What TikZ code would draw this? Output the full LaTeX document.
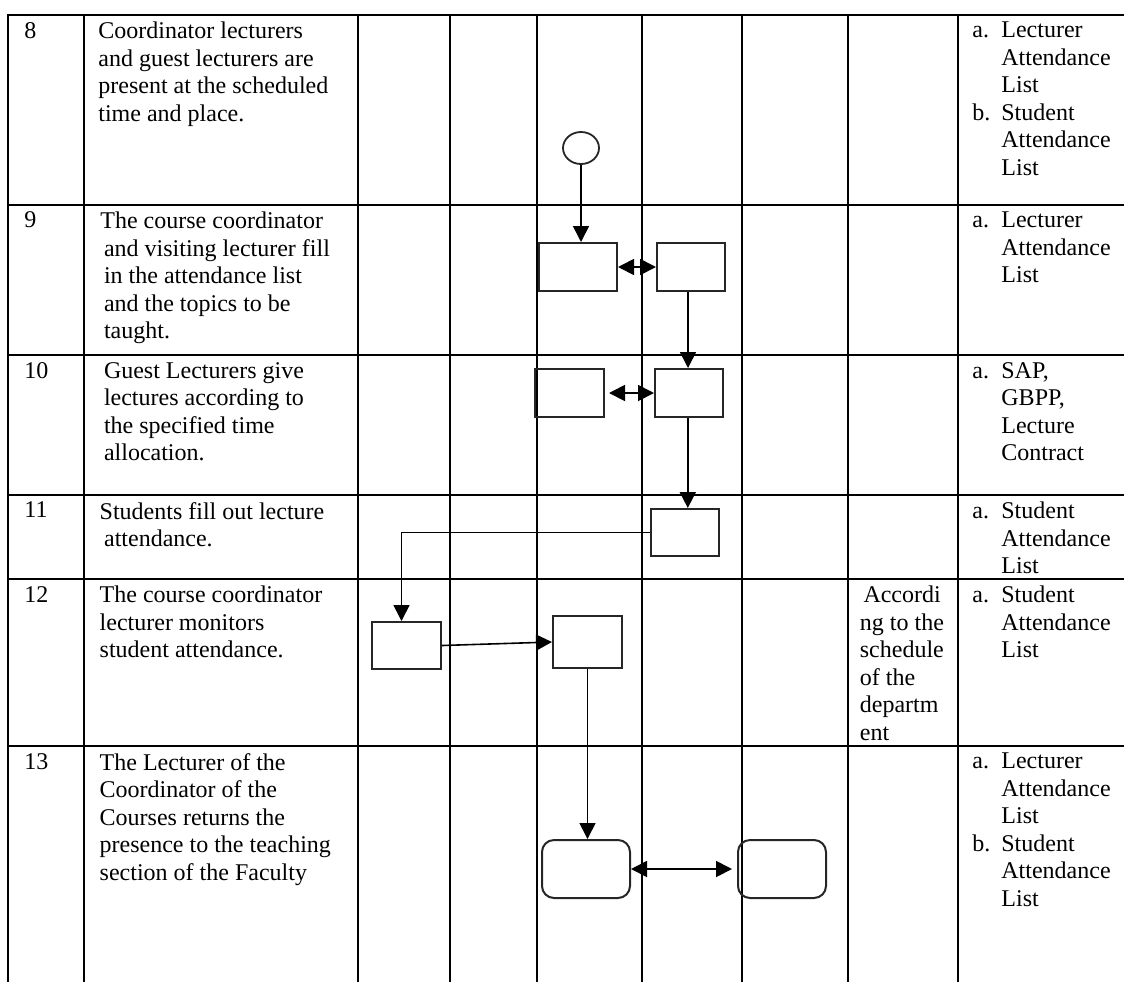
\documentclass[tikz,border=0pt]{standalone}
\usepackage{fontspec}
\setmainfont{Liberation Serif}
\usepackage{tikz}
\usetikzlibrary{arrows.meta,positioning,calc,shapes.geometric}
\newcommand{\docitem}[2]{\makebox[14.5pt][l]{#1}#2}
\newcommand{\docpad}{\hspace*{14.5pt}}
\tikzset{
  gridline/.style={line width=1pt, line cap=rect},
  cell/.style={anchor=north west, align=left, inner sep=0pt, font=\fontsize{12}{13.75}\selectfont},
  actbox/.style={draw=black!85, line width=1pt, minimum height=24pt, inner sep=0pt},
  endbox/.style={actbox, rounded corners=6pt, minimum width=44pt, minimum height=29pt},
  startnode/.style={ellipse, draw=black!85, line width=0.9pt, minimum width=18pt, minimum height=16pt, inner sep=0pt},
  flow/.style={line width=0.8pt, -{Triangle[length=8pt,width=8pt]}},
  biflow/.style={line width=0.9pt, {Triangle[length=8pt,width=8pt]}-{Triangle[length=8pt,width=8pt]}}
}

\begin{document}
\begin{tikzpicture}[x=0.5pt, y=-0.5pt]
  \useasboundingbox (0,0) rectangle (1124,981);
  \foreach \gx in {8,84,358,450,537,641.7,741.5,848,958}
    \draw[gridline] (\gx,15) -- (\gx,981);
  \foreach \gy in {15,205,355,495,579,746}
    \draw[gridline] (8,\gy) -- (1124,\gy);

  \node[cell] (n8) at (24,21.7) {8};
  \node[cell] (d8) at (98,21.7) {Coordinator lecturers\\and guest lecturers are\\present at the scheduled\\time and place.};
  \node[cell] (r8) at (972,21.7) {\docitem{a.}{Lecturer}\\\docpad Attendance\\\docpad List\\\docitem{b.}{Student}\\\docpad Attendance\\\docpad List};

  \node[cell] (n9) at (24,211.7) {9};
  \node[cell] (d9) at (100,211.7) {The course coordinator\\\hspace*{1.8pt}and visiting lecturer fill\\\hspace*{1.8pt}in the attendance list\\\hspace*{1.8pt}and the topics to be\\\hspace*{1.8pt}taught.};
  \node[cell] (r9) at (972,211.7) {\docitem{a.}{Lecturer}\\\docpad Attendance\\\docpad List};

  \node[cell] (n10) at (24,361.7) {10};
  \node[cell] (d10) at (103.6,361.7) {Guest Lecturers give\\lectures according to\\the specified time\\allocation.};
  \node[cell] (r10) at (972,361.7) {\docitem{a.}{SAP,}\\\docpad GBPP,\\\docpad Lecture\\\docpad Contract};

  \node[cell] (n11) at (24,501.7) {11};
  \node[cell] (d11) at (99.3,501.7) {Students fill out lecture\\\hspace*{2.2pt}attendance.};
  \node[cell] (r11) at (972,501.7) {\docitem{a.}{Student}\\\docpad Attendance\\\docpad List};

  \node[cell] (n12) at (24,585.7) {12};
  \node[cell] (d12) at (99.3,585.7) {The course coordinator\\lecturer monitors\\student attendance.};
  \node[cell] (t12) at (859.5,585.7) {\hspace*{1.8pt}Accordi\\ng to the\\schedule\\of the\\departm\\ent};
  \node[cell] (r12) at (972,585.7) {\docitem{a.}{Student}\\\docpad Attendance\\\docpad List};

  \node[cell] (n13) at (24,752.7) {13};
  \node[cell] (d13) at (99.3,752.7) {The Lecturer of the\\Coordinator of the\\Courses returns the\\presence to the teaching\\section of the Faculty};
  \node[cell] (r13) at (972,752.7) {\docitem{a.}{Lecturer}\\\docpad Attendance\\\docpad List\\\docitem{b.}{Student}\\\docpad Attendance\\\docpad List};

  \node[startnode] (start) at (581,148) {};
  \node[actbox, minimum width=39pt] (S9a) at (578,267) {};
  \node[actbox, minimum width=34pt] (S9b) at (691,267) {};
  \node[actbox, minimum width=34.5pt] (S10a) at (569.5,393) {};
  \node[actbox, minimum width=34pt] (S10b) at (689,393) {};
  \node[actbox, minimum width=34pt, minimum height=23.5pt] (S11) at (685,532.5) {};
  \node[actbox, minimum width=34.5pt, minimum height=23.5pt] (S12a) at (406.5,645.5) {};
  \node[actbox, minimum width=34.5pt, minimum height=26pt] (S12b) at (587.5,642) {};
  \node[endbox] (S13a) at (586,869) {};
  \node[endbox] (S13b) at (782,869) {};

  \draw[flow] (start.south) -- (start.south |- S9a.north);
  \draw[biflow] (S9a.east) -- (S9b.west);
  \draw[flow] ([xshift=-1.5pt]S9b.south) -- ([xshift=-1.5pt]S9b.south |- S10b.north);
  \draw[biflow, shorten <=2pt] (S10a.east) -- (S10b.west);
  \draw[flow] ([xshift=-0.6pt]S10b.south) -- ([xshift=-0.6pt]S10b.south |- S11.north);
  \draw[flow] (S11.west) -| ([xshift=-2.5pt]S12a.north);
  \draw[flow] (S12a.east) -- (S12b.west);
  \draw[flow] (S12b.south) -- (S12b.south |- S13a.north);
  \draw[biflow, shorten >=2.5pt] (S13a.east) -- (S13b.west);
\end{tikzpicture}
\end{document}
